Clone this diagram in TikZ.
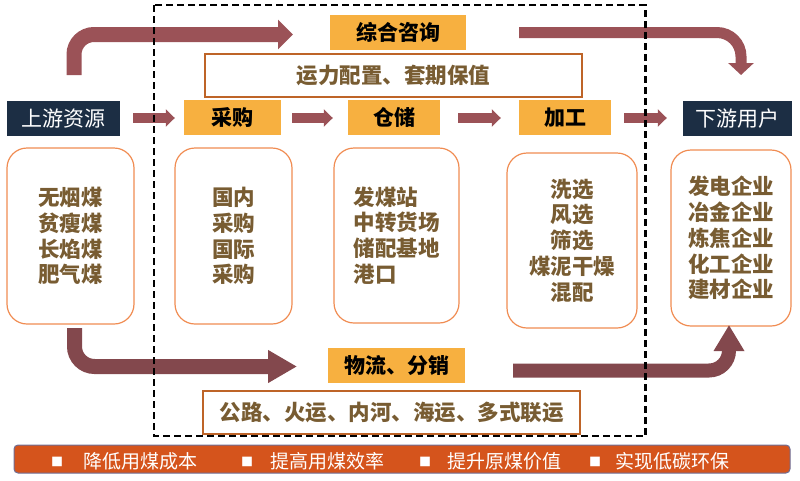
\documentclass[tikz,border=0pt]{standalone}
\usepackage{fontspec}
\newfontfamily\cjk{Noto Sans CJK SC}
\usetikzlibrary{arrows.meta}
\definecolor{labO}{RGB}{247,176,64}
\definecolor{navyD}{RGB}{28,46,68}
\definecolor{brownT}{RGB}{120,92,50}
\definecolor{rboxB}{RGB}{240,140,82}
\definecolor{wboxB}{RGB}{190,100,40}
\definecolor{arrA}{RGB}{155,82,87}
\definecolor{arrB}{RGB}{131,72,77}
\definecolor{barF}{RGB}{213,84,28}
\definecolor{barB}{RGB}{110,110,150}
\tikzset{
  lab/.style={fill=labO, inner sep=0pt, minimum height=35pt, text=black,
    font=\cjk\bfseries\fontsize{21}{21}\selectfont},
  darkbox/.style={fill=navyD, inner sep=0pt, minimum height=35pt, text=white,
    font=\cjk\fontsize{21}{21}\selectfont},
  rbox/.style={draw=rboxB, line width=1.2pt, rounded corners=20pt, inner sep=0pt,
    text=brownT, align=center, font=\cjk\bfseries\fontsize{21.5}{25.8}\selectfont,
    execute at begin node={\rule{0pt}{24pt}}},
  wbox/.style={draw=wboxB, line width=2pt, fill=white, inner sep=0pt,
    text=brownT, font=\cjk\bfseries\fontsize{21.5}{21.5}\selectfont},
  smallarr/.style={draw=arrA, line width=10pt, -{Triangle[length=9pt,width=17pt]}},
  bartext/.style={text=white, inner sep=0pt, anchor=west, font=\cjk\fontsize{19}{19}\selectfont},
  barbullet/.style={text=white, inner sep=0pt, font=\cjk\fontsize{12}{12}\selectfont},
  dashframe/.style={draw=black, line width=2.5pt, dash pattern=on 7pt off 4pt}
}
\begin{document}
\begin{tikzpicture}[x=1pt,y=-1pt]
\useasboundingbox (0,0) rectangle (800,480);
% top row labels
\node[lab, minimum width=136pt] (zh) at (398,32) {综合咨询};
\node[wbox, minimum width=377pt, minimum height=43pt] (yl) at (393.5,75.5) {运力配置、套期保值};
\node[darkbox, minimum width=113pt] (up) at (63.5,118.5) {上游资源};
\node[lab, minimum width=97pt] (cg) at (232.5,117.5) {采购};
\node[lab, minimum width=92pt] (cc) at (394,117.5) {仓储};
\node[lab, minimum width=92pt] (jg) at (565,117.5) {加工};
\node[darkbox, minimum width=109pt] (down) at (737.5,118.5) {下游用户};
% rounded boxes
\node[rbox, minimum width=127pt, minimum height=176pt] (b1) at (70.5,236) {无烟煤\\贫瘦煤\\长焰煤\\肥气煤};
\node[rbox, minimum width=117pt, minimum height=176pt] (b2) at (233.5,236) {国内\\采购\\国际\\采购};
\node[rbox, minimum width=125pt, minimum height=175pt, align=left] (b3) at (396.5,235.5) {发煤站\\中转货场\\储配基地\\港口};
\node[rbox, minimum width=130pt, minimum height=175pt] (b4) at (572,240.5) {洗选\\风选\\筛选\\煤泥干燥\\混配};
\node[rbox, minimum width=120pt, minimum height=176pt] (b5) at (731,238) {发电企业\\冶金企业\\炼焦企业\\化工企业\\建材企业};
% bottom labels
\node[lab, minimum width=137pt] (wl) at (396.5,365.5) {物流、分销};
\node[wbox, minimum width=377pt, minimum height=43pt] (gl) at (391.5,412.5) {公路、火运、内河、海运、多式联运};
% small arrows
\draw[smallarr, shorten <=13pt, shorten >=9pt] (up.east |- 0,118) -- (cg.west |- 0,118);
\draw[smallarr, shorten <=11pt, shorten >=15pt] (cg.east |- 0,118) -- (cc.west |- 0,118);
\draw[smallarr, shorten <=18pt, shorten >=18pt] (cc.east |- 0,118) -- (jg.west |- 0,118);
\draw[smallarr, shorten <=13pt, shorten >=16pt] (jg.east |- 0,118) -- (down.west |- 0,118);
% big arrows
\coordinate (t1s) at (74,75);
\coordinate (t1e) at (293,34.5);
\draw[draw=arrA, line width=15pt, rounded corners=20pt, -{Triangle[length=15pt,width=29pt]}] (t1s) |- (t1e);
\coordinate (t2s) at (519,32.5);
\coordinate (t2e) at (741,75);
\draw[draw=arrA, line width=11pt, rounded corners=24pt, -{Triangle[length=12pt,width=25pt]}] (t2s) -| (t2e);
\coordinate (b1s) at (74.5,328);
\coordinate (b1e) at (297,366.5);
\draw[draw=arrB, line width=15pt, rounded corners=20pt, -{Triangle[length=29pt,width=31pt]}] (b1s) |- (b1e);
\coordinate (b2s) at (513,370.5);
\coordinate (b2e) at (729,325);
\draw[draw=arrB, line width=14pt, rounded corners=20pt, -{Triangle[length=26pt,width=29pt]}] (b2s) -| (b2e);
% dashed frame
\draw[dashframe] (154,5) rectangle (645.5,436);
% bottom bar
\node[fill=barF, draw=barB, line width=1pt, rounded corners=4pt, minimum width=776pt, minimum height=28pt, inner sep=0pt] (bar) at (402,459) {};
\node[barbullet] (u1) at (57,462) {■};
\node[bartext] (t1) at (83,461) {降低用煤成本};
\node[barbullet] (u2) at (247,462) {■};
\node[bartext] (t2) at (270,461) {提高用煤效率};
\node[barbullet] (u3) at (425,462) {■};
\node[bartext] (t3) at (447,461) {提升原煤价值};
\node[barbullet] (u4) at (595,462) {■};
\node[bartext] (t4) at (615,461) {实现低碳环保};
\end{tikzpicture}
\end{document}
